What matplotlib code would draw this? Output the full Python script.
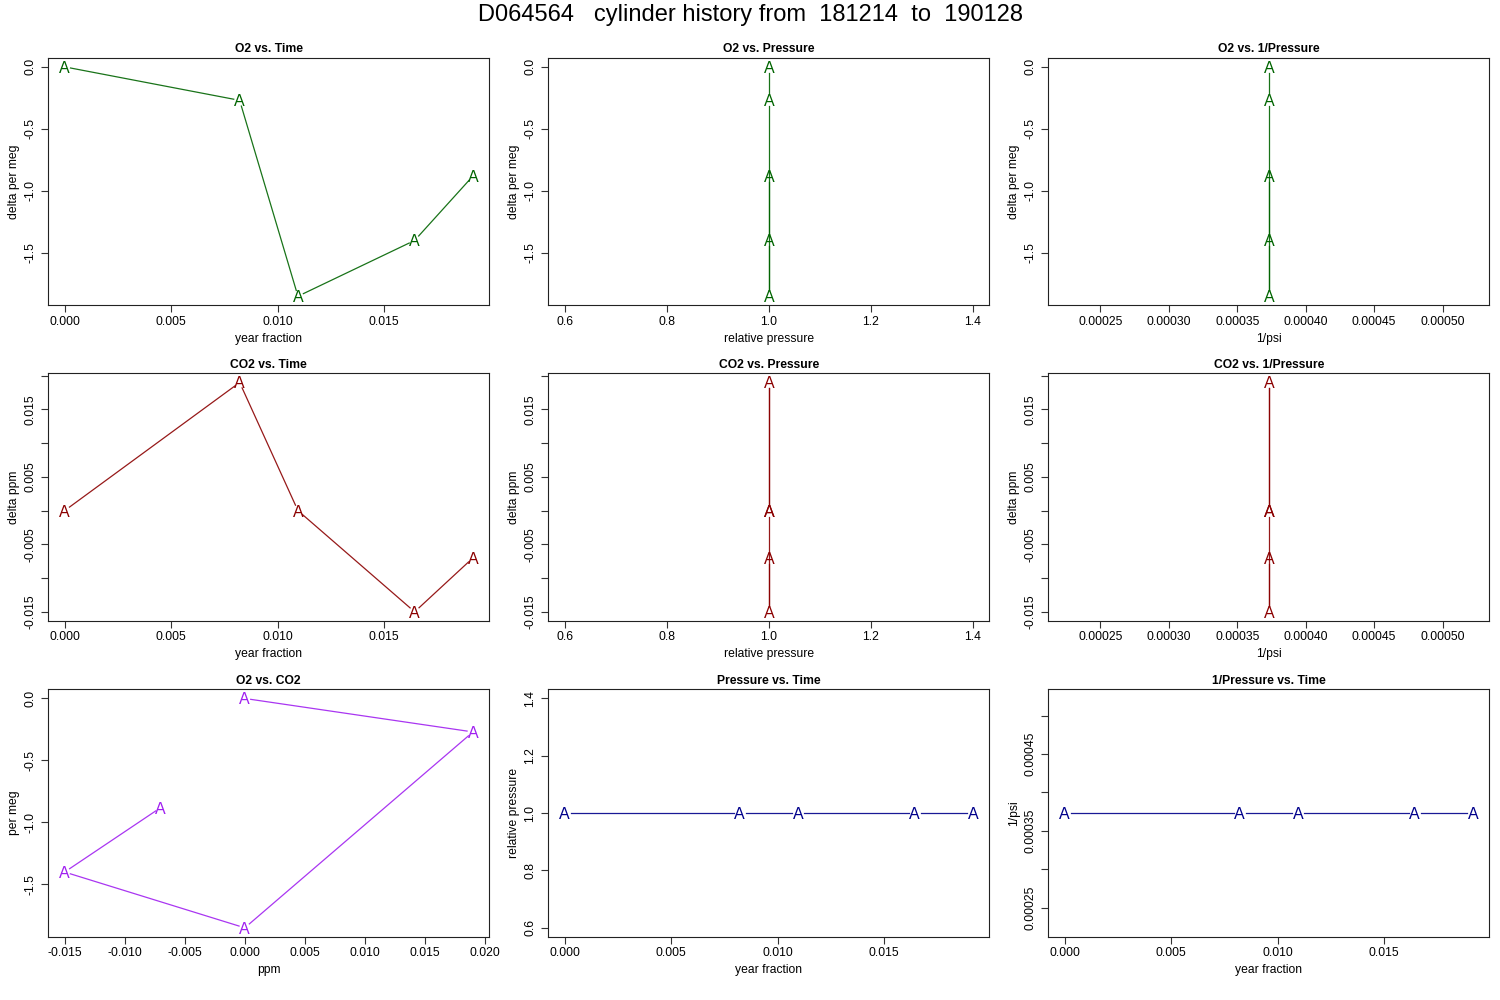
import matplotlib
matplotlib.use('Agg')
import matplotlib.pyplot as plt
import numpy as np

plt.rcParams['font.family'] = ['Liberation Sans', 'DejaVu Sans']

# cylinder history values
year_frac = [0.0, 0.00822, 0.01096, 0.01644, 0.01918]
o2_permeg = [0.0, -0.27, -1.85, -1.40, -0.88]
co2_ppm = [0.0, 0.019, 0.0, -0.015, -0.007]
rel_press = [1.0, 1.0, 1.0, 1.0, 1.0]
inv_psi = [0.000373, 0.000373, 0.000373, 0.000373, 0.000373]

main_title = 'D064564   cylinder history from  181214  to  190128'

# tick sets
yr_ticks = [0.0, 0.005, 0.010, 0.015]
press_ticks = [0.6, 0.8, 1.0, 1.2, 1.4]
inv_ticks = [0.00025, 0.00030, 0.00035, 0.00040, 0.00045, 0.00050]
o2_ticks = [0.0, -0.5, -1.0, -1.5]
co2_ticks = [-0.015, -0.010, -0.005, 0.0, 0.005, 0.010, 0.015, 0.020]


def r_lim(v):
    # R style axis range: 4% padding, +-40% when all values equal
    lo, hi = min(v), max(v)
    if hi == lo:
        lo, hi = lo - 0.4 * abs(lo), hi + 0.4 * abs(hi)
    d = 0.04 * (hi - lo)
    return lo - d, hi + d


def tick_labels(ticks, fmt, skip=None):
    # R drops every other label when they would overlap
    labs = []
    for i, t in enumerate(ticks):
        s = fmt % t
        if s.startswith('-') and float(s) == 0:
            s = s[1:]
        if skip is not None and i % 2 != skip:
            s = ''
        labs.append(s)
    return labs


panels = [
    # title, x, y, xlabel, ylabel, colour, xticks, xfmt, xskip, yticks, yfmt, yskip
    ('O2 vs. Time', year_frac, o2_permeg, 'year fraction', 'delta per meg', '#006400',
     yr_ticks, '%.3f', None, o2_ticks, '%.1f', None),
    ('O2 vs. Pressure', rel_press, o2_permeg, 'relative pressure', 'delta per meg', '#006400',
     press_ticks, '%.1f', None, o2_ticks, '%.1f', None),
    ('O2 vs. 1/Pressure', inv_psi, o2_permeg, '1/psi', 'delta per meg', '#006400',
     inv_ticks, '%.5f', None, o2_ticks, '%.1f', None),
    ('CO2 vs. Time', year_frac, co2_ppm, 'year fraction', 'delta ppm', '#8B0000',
     yr_ticks, '%.3f', None, co2_ticks, '%.3f', 0),
    ('CO2 vs. Pressure', rel_press, co2_ppm, 'relative pressure', 'delta ppm', '#8B0000',
     press_ticks, '%.1f', None, co2_ticks, '%.3f', 0),
    ('CO2 vs. 1/Pressure', inv_psi, co2_ppm, '1/psi', 'delta ppm', '#8B0000',
     inv_ticks, '%.5f', None, co2_ticks, '%.3f', 0),
    ('O2 vs. CO2', co2_ppm, o2_permeg, 'ppm', 'per meg', '#A020F0',
     co2_ticks, '%.3f', None, o2_ticks, '%.1f', None),
    ('Pressure vs. Time', year_frac, rel_press, 'year fraction', 'relative pressure', '#00008B',
     yr_ticks, '%.3f', None, press_ticks, '%.1f', None),
    ('1/Pressure vs. Time', year_frac, inv_psi, 'year fraction', '1/psi', '#00008B',
     yr_ticks, '%.3f', None, inv_ticks, '%.5f', 0),
]

fig = plt.figure(figsize=(15, 10), dpi=100)
W, H = 1500.0, 1000.0
col_left = [48.3, 548.3, 1048.3]
row_top = [57.7, 373.3, 689.3]
pw, ph = 441.0, 247.7
gap_px = 6.0

for k, (title, xs, ys, xl, yl, col, xt, xf, xsk, yt, yf, ysk) in enumerate(panels):
    r, c = divmod(k, 3)
    ax = fig.add_axes([col_left[c] / W, 1 - (row_top[r] + ph) / H, pw / W, ph / H])
    ax.set_xlim(r_lim(xs))
    ax.set_ylim(r_lim(ys))
    ax.set_xticks(xt)
    ax.set_xticklabels(tick_labels(xt, xf, xsk))
    ax.set_yticks(yt)
    ax.set_yticklabels(tick_labels(yt, yf, ysk), rotation=90, va='center')
    ax.tick_params(length=5, width=0.8, labelsize=8.7, color='#333333')
    ax.tick_params(axis='x', pad=2.5)
    ax.tick_params(axis='y', pad=3.5)
    for sp in ax.spines.values():
        sp.set_linewidth(0.8)
        sp.set_color('#222222')
    ax.set_title(title, fontsize=8.7, fontweight='bold', pad=4)
    ax.set_xlabel(xl, fontsize=8.7, labelpad=3.5)
    ax.set_ylabel(yl, fontsize=8.7, labelpad=3)

    # lines with gaps round the points, like R type="b"
    pts = ax.transData.transform(np.column_stack([xs, ys]))
    inv = ax.transData.inverted()
    for i in range(len(pts) - 1):
        p0, p1 = pts[i], pts[i + 1]
        d = np.hypot(*(p1 - p0))
        if d <= 2 * gap_px:
            continue
        u = (p1 - p0) / d
        a = inv.transform(p0 + u * gap_px)
        b = inv.transform(p1 - u * gap_px)
        ax.plot([a[0], b[0]], [a[1], b[1]], color=col, lw=0.9, alpha=0.9)
    for x, y in zip(xs, ys):
        ax.text(x, y, 'A', color=col, fontsize=11.5, ha='center', va='center_baseline')

fig.text(0.5, 1 - 15 / H, main_title, ha='center', va='center', fontsize=17)

plt.savefig('out.png', dpi=100)
